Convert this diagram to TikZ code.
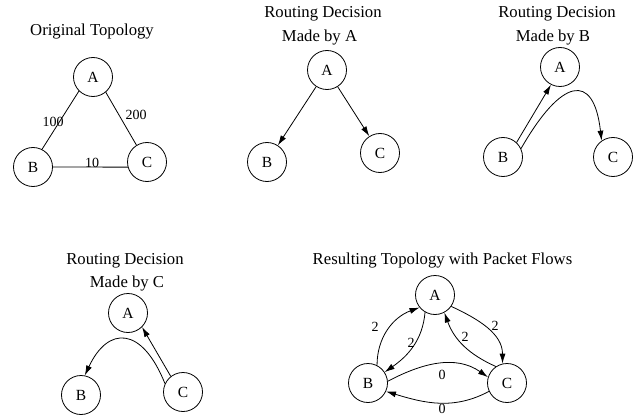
\documentclass[tikz,border=0pt]{standalone}
\usepackage{fontspec}
\setmainfont{Liberation Serif}
\usetikzlibrary{arrows.meta,calc}
\begin{document}
\begin{tikzpicture}[x=1pt,y=1pt,
  vtx/.style={circle,draw,line width=0.8pt,minimum size=39pt,inner sep=0pt,font=\fontsize{15.5}{18}\selectfont},
  ttl/.style={font=\fontsize{16.7}{20}\selectfont,inner sep=0pt,anchor=base},
  lbl/.style={font=\fontsize{14}{16}\selectfont,inner sep=0pt},
  edge/.style={line width=0.8pt},
  arr/.style={line width=0.8pt,-{Latex[length=10pt,width=6pt]}}]
\useasboundingbox (0,0) rectangle (635,416);
% Panel 1
\node[ttl] (t1) at (92,380) {Original Topology};
\node[vtx] (A1) at (93,339) {A};
\node[vtx] (B1) at (33,249) {B};
\node[vtx] (C1) at (147,254) {C};
\draw[edge] (A1.225) -- (B1.63);
\draw[edge] (A1.-50) -- (C1.122);
\draw[edge] (B1.east) -- (C1.195);
\node[lbl] (l100) at (53,294) {100};
\node[lbl] (l200) at (136,301) {200};
\node[lbl] (l10) at (92,253.5) {10};
% Panel 2
\node[ttl] (t2a) at (323,398) {Routing Decision};
\node[ttl] (t2b) at (319.5,374) {Made by A};
\node[vtx] (A2) at (327,346) {A};
\node[vtx] (B2) at (267,254) {B};
\node[vtx] (C2) at (380,263) {C};
\draw[arr] (A2) -- (B2);
\draw[arr] (A2) -- (C2);
% Panel 3
\node[ttl] (t3a) at (557,398) {Routing Decision};
\node[ttl] (t3b) at (553,374) {Made by B};
\node[vtx] (A3) at (560,349) {A};
\node[vtx] (B3) at (503,259) {B};
\node[vtx] (C3) at (613,259) {C};
\draw[arr] (B3.47) -- (A3.243);
\draw[arr] (B3.25) .. controls ($(B3.25)+(40,70)$) and ($(C3.125)+(-8,70)$) .. (C3.125);
% Panel 4
\node[ttl] (t4a) at (125,152) {Routing Decision};
\node[ttl] (t4b) at (127,129) {Made by C};
\node[vtx] (A4) at (128,103) {A};
\node[vtx] (B4) at (81,21) {B};
\node[vtx] (C4) at (183,24) {C};
\draw[arr] (C4.128) -- (A4.315);
\draw[arr] (C4.155) .. controls ($(C4.155)+(-23,57.5)$) and ($(B4.79)+(23.3,49.8)$) .. (B4.79);
% Panel 5
\node[ttl] (t5) at (442.5,152) {Resulting Topology with Packet Flows};
\node[vtx] (A5) at (435,121) {A};
\node[vtx] (B5) at (368,33) {B};
\node[vtx] (C5) at (507,33) {C};
\draw[arr] (B5.63) to[out=90,in=200] (A5.219);
\draw[arr] (A5.240) to[out=265,in=35] (B5.33);
\draw[arr] (A5.-35) to[out=-25,in=90] (C5.103);
\draw[arr] (C5.124) to[out=156,in=290] (A5.298);
\draw[arr] (B5.5) to[out=28,in=145] (C5.163);
\draw[arr] (C5.205) to[out=208,in=343] (B5.-25);
\node[lbl] (f1) at (375,89) {2};
\node[lbl] (f2) at (411,73) {2};
\node[lbl] (f3) at (495,90) {2};
\node[lbl] (f4) at (465,79) {2};
\node[lbl] (f5) at (442,41) {0};
\node[lbl] (f6) at (442,7.5) {0};
\end{tikzpicture}
\end{document}
